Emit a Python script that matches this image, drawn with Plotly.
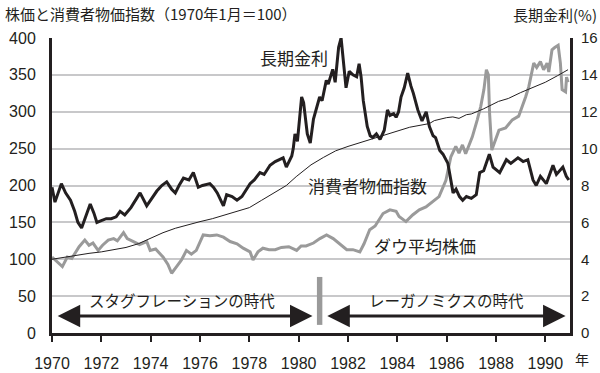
import plotly.graph_objects as go

# ---- data ----
rate_t = [1970.0,1970.12,1970.25,1970.38,1970.55,1970.75,1970.92,1971.05,1971.2,1971.35,1971.55,1971.7,1971.82,
          1972.0,1972.2,1972.4,1972.6,1972.76,1972.95,1973.2,1973.4,1973.57,1973.84,1974.05,1974.25,1974.45,1974.65,
          1974.85,1975.0,1975.15,1975.33,1975.55,1975.73,1975.93,1976.1,1976.4,1976.55,1976.7,1976.95,1977.08,1977.3,
          1977.5,1977.7,1978.03,1978.2,1978.43,1978.6,1978.84,1979.05,1979.37,1979.5,1979.72,1979.78,1979.85,1979.95,
          1980.12,1980.2,1980.35,1980.47,1980.6,1980.75,1980.85,1980.95,1981.12,1981.2,1981.38,1981.48,1981.62,1981.72,
          1981.85,1981.92,1982.05,1982.2,1982.35,1982.45,1982.53,1982.62,1982.78,1982.9,1983.0,1983.15,1983.3,1983.47,
          1983.6,1983.7,1983.85,1983.95,1984.05,1984.15,1984.28,1984.42,1984.55,1984.65,1984.83,1985.0,1985.17,1985.3,
          1985.45,1985.55,1985.72,1985.85,1986.05,1986.12,1986.26,1986.38,1986.52,1986.65,1986.8,1987.0,1987.2,1987.34,
          1987.5,1987.73,1987.88,1988.15,1988.42,1988.6,1988.89,1989.1,1989.29,1989.5,1989.63,1989.8,1990.04,1990.31,
          1990.45,1990.71,1990.85,1990.95]
rate_v = [7.9,7.1,7.6,8.1,7.6,7.2,6.6,6.0,5.7,6.3,7.0,6.5,6.0,
          6.1,6.2,6.2,6.3,6.6,6.4,6.8,7.2,7.6,6.9,7.3,7.7,8.0,8.2,
          7.8,7.6,8.0,8.4,8.3,8.7,7.9,8.0,8.1,7.9,7.6,6.9,7.5,7.4,
          7.2,7.4,8.1,8.3,8.7,8.6,9.1,9.3,9.5,9.0,9.6,10.0,10.8,10.4,
          12.8,12.5,10.8,10.3,11.6,12.3,12.8,12.6,13.7,13.5,14.3,13.6,15.5,16.0,
          14.4,13.3,14.2,14.0,13.9,14.6,13.9,12.6,11.2,10.7,10.6,10.8,10.5,11.0,
          12.1,11.8,11.9,11.7,12.0,12.8,13.3,14.1,13.4,13.0,12.1,11.5,12.0,11.2,
          10.7,10.6,9.9,9.7,9.2,8.7,7.6,7.8,7.4,7.2,7.4,7.3,7.5,8.7,
          8.8,9.7,9.0,8.7,9.4,9.2,9.5,9.3,9.4,8.3,8.0,8.5,8.1,9.1,
          8.6,9.0,8.5,8.3]

dow_t = [1970.0,1970.2,1970.42,1970.62,1970.8,1971.1,1971.33,1971.5,1971.66,1971.87,1972.05,1972.28,1972.5,1972.65,
         1972.9,1973.05,1973.3,1973.55,1973.84,1973.98,1974.2,1974.5,1974.7,1974.85,1975.05,1975.25,1975.45,1975.65,
         1975.85,1976.13,1976.4,1976.68,1976.95,1977.22,1977.5,1977.75,1978.03,1978.15,1978.35,1978.55,1978.8,1979.05,
         1979.3,1979.6,1979.92,1980.1,1980.3,1980.6,1980.86,1981.13,1981.4,1981.67,1981.95,1982.2,1982.48,1982.65,
         1982.88,1983.1,1983.42,1983.7,1983.95,1984.07,1984.35,1984.62,1984.89,1985.16,1985.42,1985.69,1985.97,1986.17,
         1986.37,1986.5,1986.64,1986.77,1986.91,1987.04,1987.24,1987.38,1987.51,1987.61,1987.69,1987.74,1987.83,1987.99,
         1988.12,1988.39,1988.66,1988.92,1989.06,1989.2,1989.33,1989.53,1989.65,1989.8,1989.93,1990.07,1990.14,1990.27,
         1990.38,1990.52,1990.61,1990.68,1990.82,1990.86,1990.92]
dow_v = [103,97,90,103,101,117,126,119,122,112,119,126,128,125,
         136,128,124,120,124,112,114,103,93,81,90,99,112,107,
         112,133,132,133,130,124,121,115,110,99,110,115,113,113,
         116,117,112,118,118,122,128,133,128,121,113,113,110,121,
         140,145,162,167,165,158,151,160,167,171,178,185,207,239,
         253,244,255,243,255,266,289,307,330,357,350,298,248,262,
         275,278,289,294,306,320,334,366,360,368,357,366,354,384,
         387,390,366,330,327,347,340]

cpi_t = [1970.0,1970.5,1971.0,1971.5,1972.0,1972.5,1973.0,1973.5,1974.0,1974.5,1975.0,1975.5,1976.0,1976.5,
         1977.0,1977.5,1978.0,1978.5,1979.0,1979.5,1979.9,1980.5,1981.0,1981.25,1981.5,1982.0,1982.6,1983.0,
         1983.5,1983.95,1984.5,1985.3,1985.5,1986.0,1986.25,1986.5,1986.8,1987.0,1987.5,1988.1,1988.5,1989.0,
         1989.5,1990.0,1990.5,1990.92]
cpi_v = [100,103,106,108,110,113,116,121,129,136,142,147,151,155,
         160,165,170,180,190,200,212,228,238,242,247,253,259,263,
         268,273,279,284,288,292,293,291,296,297,304,314,318,326,
         333,340,349,357]

year_ticks = list(range(1970, 1991, 2))
left_ticks = list(range(0, 401, 50))
right_ticks = list(range(0, 17, 2))

NUM = "Liberation Sans Narrow, Arial Narrow, Liberation Sans, Arial, sans-serif"
JP = "Noto Sans CJK JP, sans-serif"
INK = "#231f20"

PL, PR, PT, PB = 52, 570, 38, 333  # plot area in pixels

fig = go.Figure()
fig.add_trace(go.Scatter(x=dow_t, y=dow_v, mode="lines", line=dict(color="#9a9a9a", width=3), yaxis="y"))
fig.add_trace(go.Scatter(x=cpi_t, y=cpi_v, mode="lines", line=dict(color=INK, width=1), yaxis="y"))
fig.add_trace(go.Scatter(x=rate_t, y=rate_v, mode="lines", line=dict(color=INK, width=3), yaxis="y2"))

fig.update_layout(
    width=600, height=373,
    margin=dict(l=PL, r=600 - PR, t=PT, b=373 - PB, autoexpand=False),
    paper_bgcolor="white", plot_bgcolor="white",
    showlegend=False,
    font=dict(family=NUM, size=15, color=INK),
    xaxis=dict(range=[1970, 1991], tickvals=year_ticks, ticktext=[str(y) for y in year_ticks],
               showgrid=False, zeroline=False, showline=True, linecolor=INK, linewidth=3,
               ticks="outside", ticklen=6, tickwidth=2, tickcolor=INK, ticklabelstandoff=8,
               automargin=False, tickfont=dict(family=NUM, size=16, color=INK)),
    yaxis=dict(range=[0, 400], tickvals=left_ticks, showgrid=True, gridcolor="#c8c8ca", gridwidth=2,
               zeroline=False, showline=True, linecolor=INK, linewidth=3, ticks="",
               automargin=False, ticklabelstandoff=10, tickfont=dict(family=NUM, size=16, color=INK)),
    yaxis2=dict(range=[0, 16], tickvals=right_ticks, overlaying="y", side="right", showgrid=False,
                zeroline=False, showline=True, linecolor=INK, linewidth=3, ticks="",
                automargin=False, ticklabelstandoff=5, tickfont=dict(family=NUM, size=15, color=INK)),
)

# period marker bar
fig.add_shape(type="rect", xref="x", yref="y", x0=1980.74, x1=1980.96, y0=11, y1=76,
              fillcolor="#9a9a9a", line=dict(width=0))

# double-headed arrows
for x0, x1 in [(1970.17, 1980.56), (1981.1, 1990.82)]:
    fig.add_annotation(x=x1, y=23, ax=x0, ay=23, xref="x", yref="y", axref="x", ayref="y",
                       text="", showarrow=True, arrowhead=2, startarrowhead=2, arrowside="end+start",
                       arrowsize=1.5, startarrowsize=1.5, arrowwidth=3, arrowcolor=INK)

ann = [
    ("株価と消費者物価指数（1970年1月＝100）", 3, 13, "left", 15),
    ("長期金利(%)", 599, 15, "right", 15),
    ("長期金利", 294, 57, "center", 17),
    ("消費者物価指数", 367, 185, "center", 17),
    ("ダウ平均株価", 425, 245, "center", 17),
    ("スタグフレーションの時代", 182, 300, "center", 15.5),
    ("レーガノミクスの時代", 446, 300, "center", 15.5),
    ("年", 573, 359, "left", 14),
]
for text, px, py, align, size in ann:
    fig.add_annotation(x=(px - PL) / (PR - PL), y=(PB - py) / (PB - PT),
                       xref="paper", yref="paper", text=text, showarrow=False,
                       xanchor=align, yanchor="middle", font=dict(family=JP, size=size, color=INK))

fig.write_html("out.html", config={"displayModeBar": False},
               post_script="document.body.style.margin='0';document.body.style.padding='0';")
